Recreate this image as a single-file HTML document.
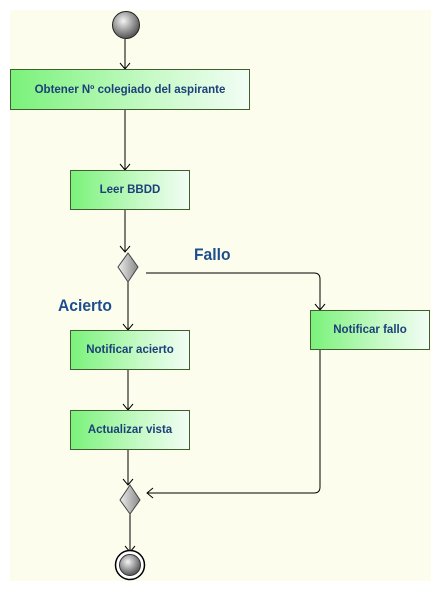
<!DOCTYPE html>
<html><head><style>
body{margin:0;width:441px;height:593px;background:#fff;position:relative;font-family:"Liberation Sans",sans-serif;overflow:hidden}
.bg{position:absolute;left:10px;top:10px;width:421px;height:571px;background:#fdfdee}
.box{position:absolute;box-sizing:border-box;border:1px solid #3f5f2f;background:linear-gradient(90deg,#7af27a,#c8fac8 60%,#f2fdf5);color:#1d3f7a;font-size:11.5px;font-weight:bold;display:flex;align-items:center;justify-content:center}
.lbl{position:absolute;color:#1d4f8f;font-weight:bold;font-size:17px;transform:scaleX(0.92);transform-origin:left}
svg{position:absolute;left:0;top:0}
</style></head><body>
<div class="bg"></div>
<svg width="441" height="593">
<defs>
<radialGradient id="g" cx="40%" cy="35%" r="65%"><stop offset="0" stop-color="#f4f4f4"/><stop offset="1" stop-color="#555"/></radialGradient>
<linearGradient id="d" x1="0" x2="1"><stop offset="0" stop-color="#eee"/><stop offset="1" stop-color="#888"/></linearGradient>
</defs>
<g stroke="#000" fill="none" stroke-width="1">
<path d="M125 39V69M120 63l5 6 5-6"/>
<path d="M125 109V170M120 164l5 6 5-6"/>
<path d="M125 210V252M120 246l5 6 5-6"/>
<path d="M128 282V330M123 324l5 6 5-6"/>
<path d="M128 370V410M123 404l5 6 5-6"/>
<path d="M128 450V485M123 479l5 6 5-6"/>
<path d="M130 514V552M125 546l5 6 5-6"/>
<path d="M146 273H314Q320 273 320 279V310M315 304l5 6 5-6"/>
<path d="M320 350V487Q320 493 314 493H147M153 488l-6 5 6 5"/>
</g>
<circle cx="126" cy="25" r="13.5" fill="url(#g)" stroke="#222"/>
<polygon points="128,253 138,267 128,282 118,267" fill="url(#d)" stroke="#444"/>
<polygon points="130,485 140,500 130,514 120,500" fill="url(#d)" stroke="#444"/>
<circle cx="130" cy="565" r="14.5" fill="#fff" stroke="#000" stroke-width="1.5"/>
<circle cx="130" cy="565" r="10.5" fill="url(#g)" stroke="#333"/>
</svg>
<div class="box" style="left:10px;top:69px;width:240px;height:41px">Obtener Nº colegiado del aspirante</div>
<div class="box" style="left:70px;top:170px;width:120px;height:40px">Leer BBDD</div>
<div class="box" style="left:70px;top:330px;width:120px;height:40px">Notificar acierto</div>
<div class="box" style="left:70px;top:410px;width:120px;height:40px">Actualizar vista</div>
<div class="box" style="left:310px;top:310px;width:120px;height:40px">Notificar fallo</div>
<div class="lbl" style="left:194px;top:245px">Fallo</div>
<div class="lbl" style="left:58px;top:296px">Acierto</div>
</body></html>
